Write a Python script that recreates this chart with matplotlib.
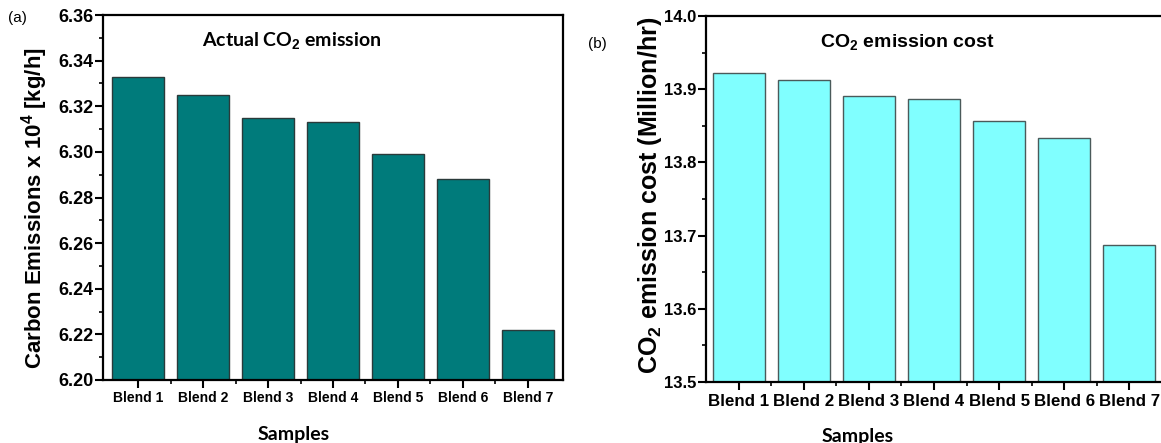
import matplotlib
matplotlib.use("Agg")
import matplotlib.pyplot as plt
from matplotlib.ticker import MultipleLocator, FixedLocator
import numpy as np

plt.rcParams["font.family"] = ["Liberation Sans", "DejaVu Sans"]
plt.rcParams["mathtext.fontset"] = "custom"
plt.rcParams["mathtext.rm"] = "Liberation Sans:bold"
plt.rcParams["mathtext.bf"] = "Liberation Sans:bold"
plt.rcParams["mathtext.default"] = "bf"

# data
samples = ["Blend 1", "Blend 2", "Blend 3", "Blend 4", "Blend 5", "Blend 6", "Blend 7"]
emissions = [6.333, 6.325, 6.315, 6.313, 6.299, 6.288, 6.222]     # x 10^4 kg/h
cost = [13.922, 13.913, 13.891, 13.887, 13.856, 13.833, 13.687]   # Million/hr

W, H = 1161, 443
fig = plt.figure(figsize=(W / 100, H / 100), dpi=100)


def px_axes(l, t, r, b):
    return fig.add_axes([l / W, 1 - b / H, (r - l) / W, (b - t) / H])


x = np.arange(1, len(samples) + 1)

# (a) actual CO2 emission
ax1 = px_axes(103, 15, 563, 380)
ax1.bar(x, emissions, width=0.8, color="#007b7b", edgecolor="#2a3a3a", linewidth=1.0)
ax1.set_xlim(0.46, 7.54)
ax1.set_ylim(6.20, 6.36)
ax1.yaxis.set_major_locator(MultipleLocator(0.02))
ax1.yaxis.set_minor_locator(MultipleLocator(0.01))
ax1.set_yticklabels([f"{v:.2f}" for v in ax1.get_yticks()])
ax1.set_xticks(x)
ax1.set_xticklabels(samples)
ax1.xaxis.set_minor_locator(FixedLocator(x[:-1] + 0.5))
ax1.tick_params(axis="both", which="major", direction="out", length=6, width=1.5)
ax1.tick_params(axis="both", which="minor", direction="out", length=3, width=1.2)
ax1.tick_params(axis="y", labelsize=13, pad=1)
ax1.tick_params(axis="x", labelsize=10, pad=2)
for lbl in ax1.get_xticklabels() + ax1.get_yticklabels():
    lbl.set_fontweight("bold")
for sp in ax1.spines.values():
    sp.set_linewidth(1.6)
ax1.set_ylabel(r"Carbon Emissions x 10$^{4}$ [kg/h]", fontsize=16, fontweight="bold")
ax1.yaxis.set_label_coords((50 - 103) / 460, 0.47)
ax1.set_xlabel("Samples", fontsize=14, fontweight="bold", family=["Lato", "DejaVu Sans"])
ax1.xaxis.set_label_coords((294 - 103) / 460, -0.125)
ax1.text((292 - 103) / 460, 0.93, r"Actual CO$_2$ emission", transform=ax1.transAxes,
         ha="center", va="center", fontsize=14, fontweight="bold", family=["Lato", "DejaVu Sans"])
fig.text(8 / W, 1 - 18 / H, "(a)", fontsize=11, ha="left", va="center")

# (b) CO2 emission cost
ax2 = px_axes(706, 16, 1162, 382)
ax2.bar(x, cost, width=0.8, color="#80ffff", edgecolor="#4a5a5a", linewidth=1.0)
ax2.set_xlim(0.5, 7.5)
ax2.set_ylim(13.5, 14.0)
ax2.yaxis.set_major_locator(MultipleLocator(0.1))
ax2.yaxis.set_minor_locator(MultipleLocator(0.05))
ax2.set_yticklabels([f"{v:.1f}" for v in ax2.get_yticks()])
ax2.set_xticks(x)
ax2.set_xticklabels(samples)
ax2.xaxis.set_minor_locator(FixedLocator(x[:-1] + 0.5))
ax2.tick_params(axis="both", which="major", direction="out", length=6, width=1.5)
ax2.tick_params(axis="both", which="minor", direction="out", length=3, width=1.2)
ax2.tick_params(axis="y", labelsize=12, pad=1)
ax2.tick_params(axis="x", labelsize=12.2, pad=3)
for lbl in ax2.get_xticklabels() + ax2.get_yticklabels():
    lbl.set_fontweight("bold")
ax2.spines["right"].set_visible(False)
for sp in ax2.spines.values():
    sp.set_linewidth(1.6)
ax2.set_ylabel(r"CO$_2$ emission cost (Million/hr)", fontsize=18, fontweight="bold")
ax2.yaxis.set_label_coords((664 - 706) / 456, 0.51)
ax2.set_xlabel("Samples", fontsize=14, fontweight="bold", family=["Lato", "DejaVu Sans"])
ax2.xaxis.set_label_coords((858 - 706) / 456, -0.125)
ax2.text((907 - 706) / 456, 0.93, r"CO$_2$ emission cost", transform=ax2.transAxes,
         ha="center", va="center", fontsize=14, fontweight="bold")
fig.text(588 / W, 1 - 44 / H, "(b)", fontsize=11, ha="left", va="center")

fig.savefig("out.png", dpi=100)
